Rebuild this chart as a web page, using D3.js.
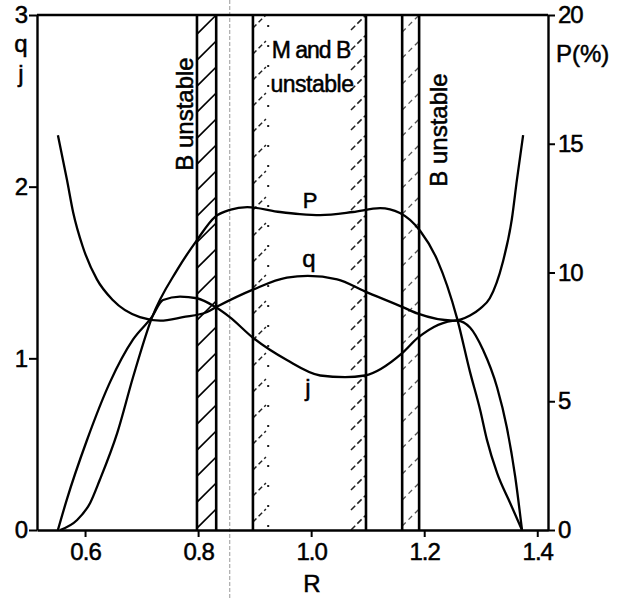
<!DOCTYPE html>
<html>
  <meta charset="utf-8" />
  <head>
    <script src="https://d3js.org/d3.v7.min.js"></script>
    <style>
      body {
        margin: 0;
        background: #fff;
      }
      svg text {
        font-family: "Liberation Sans", Arial, sans-serif;
        fill: #000;
        stroke: #000;
        stroke-width: 0.5px;
      }
    </style>
  </head>
  <body>
    <svg id="chart" width="631" height="599"></svg>

    <script>
      // curve values (R on the x axis)
      const qR = [0.552, 0.568, 0.579, 0.596, 0.621, 0.649, 0.697, 0.733, 0.773, 0.816, 0.833, 0.897, 0.957, 0.994, 1.046, 1.095, 1.161, 1.189, 1.251, 1.281, 1.299, 1.316, 1.339, 1.355, 1.364, 1.375];
      const qV = [2.30, 2.04, 1.85, 1.65, 1.46, 1.34, 1.24, 1.22, 1.24, 1.27, 1.30, 1.40, 1.47, 1.48, 1.46, 1.39, 1.30, 1.26, 1.22, 1.25, 1.29, 1.35, 1.56, 1.81, 2.04, 2.30];

      const jR = [0.552, 0.568, 0.603, 0.644, 0.685, 0.718, 0.738, 0.768, 0.798, 0.830, 0.856, 0.897, 0.957, 1.016, 1.060, 1.095, 1.161, 1.189, 1.258, 1.281, 1.304, 1.329, 1.346, 1.361, 1.373];
      const jV = [0, 0.18, 0.52, 0.86, 1.11, 1.24, 1.34, 1.36, 1.35, 1.30, 1.24, 1.12, 0.99, 0.90, 0.89, 0.90, 1.03, 1.12, 1.22, 1.18, 1.05, 0.83, 0.60, 0.31, 0];

      // P in percent, right axis
      const pR = [0.556, 0.586, 0.609, 0.626, 0.657, 0.685, 0.718, 0.763, 0.798, 0.830, 0.856, 0.887, 0.945, 0.980, 1.016, 1.074, 1.122, 1.157, 1.193, 1.223, 1.258, 1.281, 1.299, 1.311, 1.329, 1.352, 1.373];
      const pV = [0, 0.39, 1.05, 1.94, 3.77, 5.94, 8.23, 10.1, 11.26, 12.16, 12.43, 12.54, 12.35, 12.27, 12.23, 12.35, 12.5, 12.31, 11.61, 10.49, 8.23, 6.14, 4.66, 3.5, 2.21, 1.05, 0];

      // stability band edges
      const bandLeft = [0.798, 0.832];
      const bandMB = [0.897, 1.097];
      const bandRight = [1.161, 1.191];
      const dotLineR = 0.924;
      const scanLineR = 0.856;

      const xTicks = [0.6, 0.8, 1.0, 1.2, 1.4];
      const yTicks = [0, 1, 2, 3];
      const pTicks = [0, 5, 10, 15, 20];

      const mLeft = 37, mRight = 548, mTop = 15, mBottom = 530;

      const svg = d3.select("#chart");

      const x = d3.scaleLinear().domain([0.515, 1.419]).range([mLeft, mRight]);
      const y = d3.scaleLinear().domain([0, 3]).range([mBottom, mTop]);
      const yP = d3.scaleLinear().domain([0, 20]).range([mBottom, mTop]);

      // faint scanner line across the whole page
      svg
        .append("line")
        .attr("x1", x(scanLineR))
        .attr("x2", x(scanLineR))
        .attr("y1", 0)
        .attr("y2", 599)
        .attr("stroke", "#999")
        .attr("stroke-width", 1)
        .attr("stroke-dasharray", "4,2");

      function hatch(x0, x1, step, style) {
        const w = x1 - x0;
        const ys = d3.range(mTop + w, mBottom + 1, step);
        svg
          .append("g")
          .selectAll("line")
          .data(ys)
          .enter()
          .append("line")
          .attr("x1", x0)
          .attr("y1", (d) => d)
          .attr("x2", x1)
          .attr("y2", (d) => d - w)
          .attr("stroke", style.color)
          .attr("stroke-width", style.width)
          .attr("stroke-dasharray", style.dash || null);
      }

      hatch(x(bandLeft[0]), x(bandLeft[1]), 26, { color: "#000", width: 1.7 });
      hatch(x(bandMB[0]), x(bandMB[0]) + 13, 26, { color: "#222", width: 1.5, dash: "5,3" });
      hatch(x(bandMB[1]) - 15, x(bandMB[1]), 20, { color: "#222", width: 1.5, dash: "6,3" });
      hatch(x(bandRight[0]), x(bandRight[1]), 26, { color: "#555", width: 1.3, dash: "5,4" });

      // dotted line inside the M and B region
      svg
        .append("line")
        .attr("x1", x(dotLineR))
        .attr("x2", x(dotLineR))
        .attr("y1", mTop + 10)
        .attr("y2", mBottom)
        .attr("stroke", "#222")
        .attr("stroke-width", 2)
        .attr("stroke-dasharray", "2,18");

      const edges = [].concat(bandLeft, bandMB, bandRight);
      svg
        .append("g")
        .selectAll("line")
        .data(edges)
        .enter()
        .append("line")
        .attr("x1", (d) => x(d))
        .attr("x2", (d) => x(d))
        .attr("y1", mTop)
        .attr("y2", mBottom)
        .attr("stroke", "#000")
        .attr("stroke-width", 2.6);

      // curves
      function curve(rs, vs, scale) {
        const pts = rs.map((r, i) => [x(r), scale(vs[i])]);
        svg
          .append("path")
          .attr("d", d3.line().curve(d3.curveMonotoneX)(pts))
          .attr("fill", "none")
          .attr("stroke", "#000")
          .attr("stroke-width", 2.3);
      }
      curve(qR, qV, y);
      curve(jR, jV, y);
      curve(pR, pV, yP);

      // frame + axes
      svg
        .append("line")
        .attr("x1", mLeft)
        .attr("x2", mRight)
        .attr("y1", mTop)
        .attr("y2", mTop)
        .attr("stroke", "#000")
        .attr("stroke-width", 2.4);

      const axL = svg
        .append("g")
        .attr("transform", `translate(${mLeft},0)`)
        .call(d3.axisLeft(y).tickValues(yTicks).tickFormat(d3.format("d")).tickSize(8).tickPadding(2).tickSizeOuter(0));

      const axR = svg
        .append("g")
        .attr("transform", `translate(${mRight},0)`)
        .call(d3.axisRight(yP).tickValues(pTicks).tickFormat(d3.format("d")).tickSize(7).tickPadding(3).tickSizeOuter(0));

      const axB = svg
        .append("g")
        .attr("transform", `translate(0,${mBottom})`)
        .call(d3.axisBottom(x).tickValues(xTicks).tickFormat(d3.format(".1f")).tickSize(7).tickPadding(6).tickSizeOuter(0));

      [axL, axR, axB].forEach((ax) => {
        ax.select(".domain").attr("stroke-width", 2.4);
        ax.selectAll(".tick line").attr("stroke-width", 2);
        ax.selectAll("text")
          .attr("font-size", 24)
          .attr("font-family", "Liberation Sans, Arial, sans-serif")
          .attr("letter-spacing", -1);
      });

      // axis titles
      svg.append("text").attr("x", 21).attr("y", 52).attr("text-anchor", "middle").attr("font-size", 24).text("q");
      svg.append("text").attr("x", 21).attr("y", 82).attr("text-anchor", "middle").attr("font-size", 24).text("j");
      svg.append("text").attr("x", 556).attr("y", 62).attr("font-size", 24).text("P(%)");
      svg.append("text").attr("x", 312).attr("y", 592).attr("text-anchor", "middle").attr("font-size", 24).text("R");

      // curve labels
      svg.append("text").attr("x", 310).attr("y", 208).attr("text-anchor", "middle").attr("font-size", 22).text("P");
      svg.append("text").attr("x", 309).attr("y", 267).attr("text-anchor", "middle").attr("font-size", 24).text("q");
      svg.append("text").attr("x", 308).attr("y", 396).attr("text-anchor", "middle").attr("font-size", 24).text("j");

      // region labels
      svg
        .append("text")
        .attr("transform", "translate(193,114) rotate(-90)")
        .attr("text-anchor", "middle")
        .attr("font-size", 24)
        .text("B unstable");
      svg
        .append("text")
        .attr("transform", "translate(447,130) rotate(-90)")
        .attr("text-anchor", "middle")
        .attr("font-size", 24)
        .text("B unstable");
      svg
        .append("text")
        .attr("x", 311)
        .attr("y", 58)
        .attr("text-anchor", "middle")
        .attr("font-size", 23)
        .attr("letter-spacing", -1)
        .text("M and B");
      svg
        .append("text")
        .attr("x", 312)
        .attr("y", 92)
        .attr("text-anchor", "middle")
        .attr("font-size", 23)
        .attr("letter-spacing", -0.5)
        .text("unstable");
    </script>
  </body>
</html>
